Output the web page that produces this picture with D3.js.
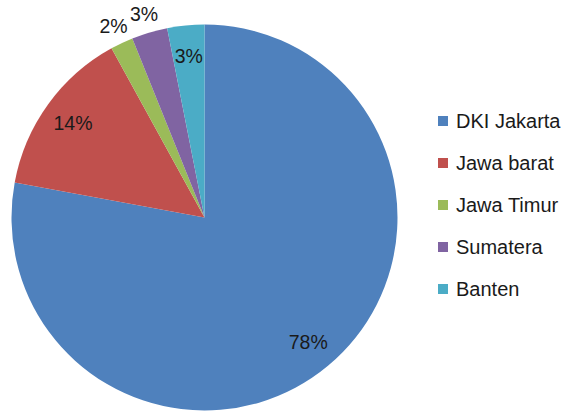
<!DOCTYPE html>
<html>
<head>
<meta charset="utf-8">
<script src="https://cdn.jsdelivr.net/npm/d3@7"></script>
<style>
  body { margin: 0; background: #fff; overflow: hidden; }
  svg { display: block; font-family: "Liberation Sans", Arial, sans-serif; }
</style>
</head>
<body>
<div class="chart"></div>
<script>
// share per province (percent)
const regions = ["DKI Jakarta", "Jawa barat", "Jawa Timur", "Sumatera", "Banten"];
const shares = [77.9, 14.1, 1.9, 3.0, 3.1];
const colours = ["#4f81bd", "#c0504d", "#9bbb59", "#8064a2", "#4bacc6"];

// slices whose label sits outside the pie
const outsideLabels = ["Jawa Timur", "Sumatera"];

const W = 561, H = 412;
const cx = 204.5, cy = 217.5, R = 193;

const svg = d3.select(".chart")
    .append("svg")
    .attr("width", W)
    .attr("height", H);

const data = regions.map((r, i) => ({ region: r, value: shares[i] }));

const pie = d3.pie()
    .value(d => d.value)
    .sort(null)
    .startAngle(0)
    .endAngle(2 * Math.PI);

const arc = d3.arc().innerRadius(0).outerRadius(R);
const arcIn = d3.arc().innerRadius(R * 0.84).outerRadius(R * 0.84);
const arcOut = d3.arc().innerRadius(R * 1.1).outerRadius(R * 1.1);

const color = d3.scaleOrdinal().domain(regions).range(colours);

const g = svg.append("g")
    .attr("transform", "translate(" + cx + "," + cy + ")");

const arcs = pie(data);

g.selectAll("path")
    .data(arcs)
    .join("path")
    .attr("d", arc)
    .attr("fill", d => color(d.data.region));

// percentage labels
g.selectAll("text.lbl")
    .data(arcs)
    .join("text")
    .attr("class", "lbl")
    .attr("transform", d => {
        const a = outsideLabels.includes(d.data.region) ? arcOut : arcIn;
        return "translate(" + a.centroid(d) + ")";
    })
    .attr("text-anchor", "middle")
    .attr("dominant-baseline", "central")
    .attr("font-size", "19.5px")
    .attr("fill", "#1a1a1a")
    .text(d => d3.format(".0f")(d.data.value) + "%");

// legend
const legend = svg.append("g")
    .attr("transform", "translate(438,121)");

const y = d3.scalePoint().domain(regions).range([0, 168]);

const item = legend.selectAll("g")
    .data(regions)
    .join("g")
    .attr("transform", d => "translate(0," + y(d) + ")");

item.append("rect")
    .attr("x", 0)
    .attr("y", -5)
    .attr("width", 10)
    .attr("height", 10)
    .attr("fill", d => color(d));

item.append("text")
    .attr("x", 18)
    .attr("y", 0)
    .attr("dominant-baseline", "central")
    .attr("font-size", "20px")
    .attr("fill", "#1a1a1a")
    .text(d => d);
</script>
</body>
</html>
